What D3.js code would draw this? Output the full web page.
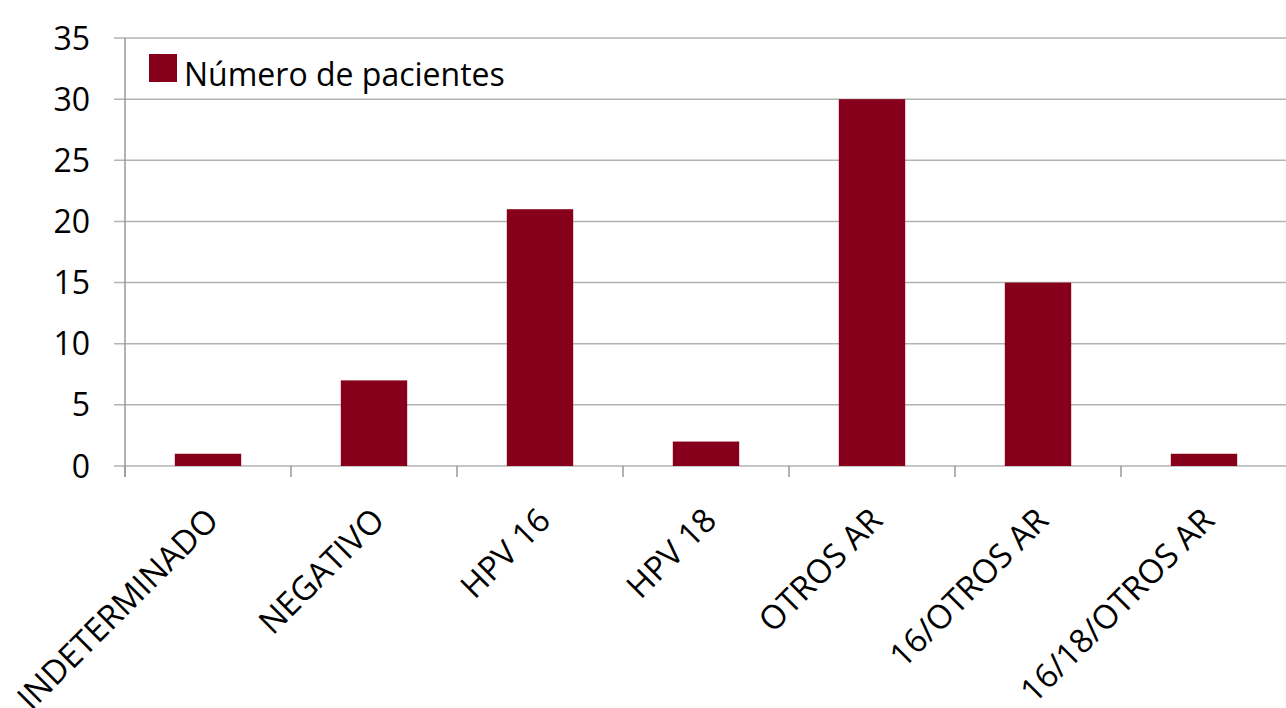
<!DOCTYPE html>
<html>
<head>
<meta charset="utf-8">
<script src="https://cdn.jsdelivr.net/npm/d3@7"></script>
<style>
  body { margin: 0; background: #fff; }
  text { font-family: "Open Sans", "Noto Sans", sans-serif; fill: #000; }
</style>
</head>
<body>
<div id="chart"></div>
<script>
// data
const categories = ["INDETERMINADO", "NEGATIVO", "HPV 16", "HPV 18", "OTROS AR", "16/OTROS AR", "16/18/OTROS AR"];
const values = [1, 7, 21, 2, 30, 15, 1];
const yTicks = [0, 5, 10, 15, 20, 25, 30, 35];
const seriesName = "Número de pacientes";

let width = 1286, height = 708;
let margin = ({top: 38, right: -1, bottom: 242, left: 125});

const svg = d3.select("#chart").append("svg")
    .attr("width", width)
    .attr("height", height);

let x = d3.scaleBand()
    .domain(categories)
    .range([margin.left, width - margin.right])
    .paddingInner(0.6)
    .paddingOuter(0.3);

let y = d3.scaleLinear()
    .domain([0, 35])
    .range([height - margin.bottom, margin.top]);

// gridlines + y ticks
svg.append("g")
    .selectAll("line")
    .data(yTicks)
    .join("line")
    .attr("x1", margin.left - 11)
    .attr("x2", width)
    .attr("y1", d => y(d))
    .attr("y2", d => y(d))
    .attr("stroke", "#b3b3b3")
    .attr("stroke-width", 1.5);

svg.append("g")
    .selectAll("text")
    .data(yTicks)
    .join("text")
    .attr("x", 90)
    .attr("y", d => y(d))
    .attr("dy", "0.36em")
    .attr("text-anchor", "end")
    .style("font-size", "32px")
    .text(d => d);

// y axis line
svg.append("line")
    .attr("x1", margin.left).attr("x2", margin.left)
    .attr("y1", y(35)).attr("y2", y(0) + 11)
    .attr("stroke", "#999").attr("stroke-width", 1.5);

// x ticks at band boundaries
let bounds = categories.map(c => x(c) - x.step() * 0.3);
bounds.push(x(categories[categories.length - 1]) + x.bandwidth() + x.step() * 0.3);
svg.append("g")
    .selectAll("line")
    .data(bounds)
    .join("line")
    .attr("x1", d => d).attr("x2", d => d)
    .attr("y1", y(0)).attr("y2", y(0) + 11)
    .attr("stroke", "#999").attr("stroke-width", 1.5);

// bars
svg.append("g")
    .selectAll("rect")
    .data(values)
    .join("rect")
    .attr("x", (d, i) => x(categories[i]))
    .attr("y", d => y(d))
    .attr("width", x.bandwidth())
    .attr("height", d => y(0) - y(d))
    .attr("fill", "#86001c");

// x labels, rotated
svg.append("g")
    .selectAll("text")
    .data(categories)
    .join("text")
    .attr("transform", d => `translate(${x(d) + x.bandwidth() / 2 - 4},${y(0) + 40}) rotate(-45)`)
    .attr("text-anchor", "end")
    .attr("dy", "0.7em")
    .style("font-size", "33px")
    .text(d => d);

// legend
svg.append("rect")
    .attr("x", 149).attr("y", 54)
    .attr("width", 28).attr("height", 28)
    .attr("fill", "#86001c");
svg.append("text")
    .attr("x", 184).attr("y", 74)
    .attr("dy", "0.36em")
    .style("font-size", "32px")
    .text(seriesName);
</script>
</body>
</html>
